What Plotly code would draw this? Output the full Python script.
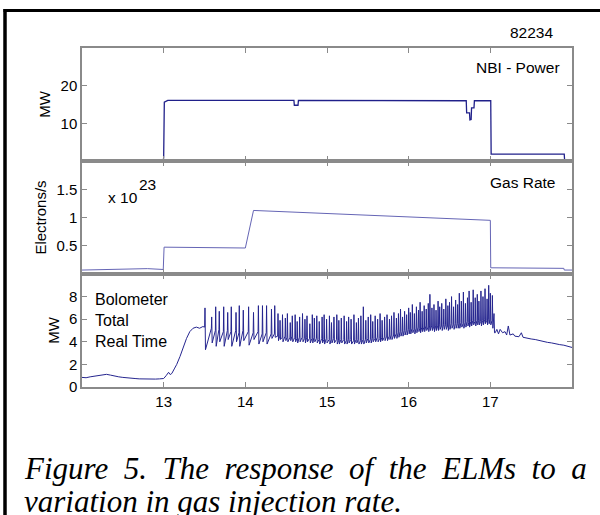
import plotly.graph_objects as go
from plotly.subplots import make_subplots

# ---------------- data ----------------
shot_number = "82234"

# NBI power (MW)
nbi_t = [12.0, 12.995, 13.0, 13.008, 13.05, 14.595, 14.60, 14.645, 14.65, 16.705, 16.71,
         16.745, 16.75, 16.765, 16.77, 16.80, 16.805, 17.005, 17.01, 17.905, 17.91, 18.0]
nbi_v = [0.0, 0.0, 1.0, 15.6, 16.1, 16.1, 14.8, 14.8, 16.1, 16.0, 12.8,
         12.8, 10.9, 11.0, 14.1, 14.1, 16.0, 16.0, 1.8, 1.8, 0.0, 0.0]

# Gas rate (x 1e23 electrons/s)
gas_t = [12.0, 12.8, 12.995, 13.005, 14.0, 14.1, 17.0, 17.005, 17.9, 17.905, 18.0]
gas_v = [0.07, 0.095, 0.08, 0.475, 0.46, 1.125, 0.95, 0.11, 0.10, 0.07, 0.07]

# Bolometer total (MW): before ELMs
bolo_pre_t = [12.0, 12.05, 12.1, 12.15, 12.2, 12.25, 12.3, 12.35, 12.4, 12.45, 12.5, 12.55,
              12.6, 12.65, 12.7, 12.75, 12.8, 12.85, 12.9, 12.95, 13.0, 13.03, 13.06, 13.08,
              13.1, 13.13, 13.16, 13.2, 13.24, 13.28, 13.32, 13.36, 13.4, 13.44, 13.48]
bolo_pre_v = [0.85, 0.82, 0.9, 0.95, 1.05, 1.1, 1.12, 1.05, 0.95, 0.9, 0.85, 0.8,
              0.75, 0.75, 0.72, 0.7, 0.7, 0.72, 0.7, 0.72, 0.75, 1.0, 1.3, 1.1,
              1.2, 1.6, 2.0, 2.7, 3.5, 4.3, 4.9, 5.2, 5.3, 5.2, 5.35]

# ELM spikes: time, level before, peak, trough after
elm_t = [13.506, 13.588, 13.637, 13.681, 13.735, 13.784, 13.828, 13.886, 13.926, 13.975,
         14.04, 14.10, 14.16, 14.21, 14.26, 14.32, 14.36,
         14.40, 14.425, 14.455, 14.49, 14.515, 14.55, 14.575, 14.61, 14.635, 14.665,
         14.70, 14.73, 14.755, 14.79, 14.82, 14.845, 14.875, 14.905, 14.94, 14.965,
         14.995, 15.03, 15.055, 15.085, 15.12, 15.145, 15.175, 15.21, 15.24, 15.265,
         15.295, 15.33, 15.36, 15.385, 15.415, 15.445, 15.475, 15.505, 15.535, 15.56,
         15.59, 15.62, 15.65, 15.675, 15.705, 15.735, 15.765, 15.79, 15.82, 15.85, 15.875,
         15.90, 15.925, 15.95, 15.975, 16.00, 16.02, 16.045, 16.07, 16.095, 16.12,
         16.14, 16.165, 16.19, 16.215, 16.24, 16.26, 16.285, 16.31, 16.335, 16.36,
         16.38, 16.405, 16.43, 16.455, 16.48, 16.50, 16.525, 16.55, 16.575, 16.60,
         16.62, 16.645, 16.67, 16.695, 16.72, 16.74, 16.765, 16.79, 16.815, 16.84,
         16.86, 16.885, 16.91, 16.935, 16.96, 16.98, 17.00, 17.025, 17.045]
elm_base = [5.3, 5.2, 5.0, 5.1, 4.9, 5.0, 4.9, 5.0, 4.8, 5.0,
            4.9, 4.8, 4.9, 4.7, 4.8, 4.7, 4.7,
            4.5, 4.5, 4.4, 4.5, 4.4, 4.4, 4.5, 4.4, 4.3, 4.4,
            4.4, 4.3, 4.4, 4.3, 4.3, 4.4, 4.3, 4.2, 4.3, 4.2,
            4.3, 4.2, 4.2, 4.3, 4.2, 4.1, 4.2, 4.2, 4.1, 4.2,
            4.2, 4.1, 4.2, 4.2, 4.1, 4.2, 4.2, 4.3, 4.2, 4.3,
            4.3, 4.4, 4.3, 4.4, 4.4, 4.5, 4.5, 4.6, 4.6, 4.7, 4.8,
            4.9, 4.9, 5.0, 5.0, 5.1, 5.1, 5.2, 5.1, 5.2, 5.3,
            5.2, 5.3, 5.3, 5.4, 5.3, 5.4, 5.4, 5.3, 5.4, 5.4,
            5.5, 5.4, 5.5, 5.5, 5.4, 5.5, 5.6, 5.5, 5.6, 5.6,
            5.6, 5.7, 5.6, 5.7, 5.8, 5.7, 5.8, 5.9, 5.8, 5.9,
            5.9, 5.8, 5.9, 6.0, 5.9, 6.0, 6.0, 5.9, 5.8]
elm_peak = [7.0, 6.2, 7.1, 6.7, 7.1, 6.6, 7.1, 6.6, 7.2, 6.8,
            7.1, 6.6, 7.2, 7.2, 7.2, 6.9, 7.2,
            6.5, 5.9, 6.4, 6.1, 6.5, 5.7, 6.3, 6.4, 5.8, 6.2,
            6.5, 6.0, 6.3, 5.6, 6.4, 6.1, 6.3, 5.8, 6.2, 6.4,
            6.0, 6.3, 5.7, 6.2, 6.4, 5.9, 6.1, 6.3, 5.8, 6.2,
            6.0, 6.4, 5.7, 6.1, 6.3, 7.1, 5.9, 6.2, 6.4, 5.8,
            6.3, 6.0, 6.5, 5.9, 6.2, 6.4, 6.0, 6.3, 6.6, 6.1, 6.5,
            6.9, 6.2, 6.7, 6.4, 7.0, 6.6, 7.3, 6.5, 7.1, 6.8,
            7.5, 6.7, 7.2, 6.9, 7.4, 8.2, 7.0, 7.3, 6.8, 7.6,
            7.1, 7.4, 6.9, 7.8, 7.2, 7.5, 8.0, 7.1, 7.7, 7.3,
            8.3, 7.6, 8.4, 7.4, 7.9, 8.5, 7.5, 8.6, 7.9, 8.2,
            7.6, 8.5, 8.0, 8.7, 7.8, 9.0, 8.3, 8.1, 6.5]
elm_low = [3.3, 3.9, 3.6, 4.0, 3.6, 4.2, 3.6, 4.0, 3.6, 4.1,
           3.7, 4.2, 3.8, 4.0, 3.8, 4.3, 4.4,
           4.1, 4.2, 4.0, 4.1, 4.0, 4.1, 4.0, 4.0, 3.9, 4.0,
           4.0, 3.9, 4.0, 3.9, 3.9, 4.0, 3.9, 3.8, 3.9, 3.8,
           3.9, 3.8, 3.9, 3.9, 3.8, 3.8, 3.9, 3.8, 3.8, 3.9,
           3.8, 3.8, 3.9, 3.8, 3.8, 3.8, 3.9, 3.9, 3.9, 4.0,
           4.0, 4.0, 4.0, 4.1, 4.1, 4.1, 4.2, 4.2, 4.3, 4.3, 4.4,
           4.5, 4.5, 4.6, 4.6, 4.7, 4.7, 4.8, 4.7, 4.8, 4.9,
           4.8, 4.9, 4.9, 5.0, 4.9, 5.0, 5.0, 4.9, 5.0, 5.0,
           5.1, 5.0, 5.1, 5.1, 5.0, 5.1, 5.2, 5.1, 5.2, 5.2,
           5.2, 5.3, 5.2, 5.3, 5.4, 5.3, 5.4, 5.5, 5.4, 5.5,
           5.5, 5.4, 5.5, 5.6, 5.5, 5.6, 5.5, 5.2, 4.8]

# after the ELMy phase
bolo_post_t = [17.06, 17.08, 17.10, 17.12, 17.15, 17.18, 17.20, 17.22, 17.24, 17.28, 17.30,
               17.35, 17.38, 17.40, 17.45, 17.50, 17.55, 17.60, 17.65, 17.70, 17.75, 17.80,
               17.85, 17.90, 17.95, 18.0]
bolo_post_v = [4.8, 5.1, 4.7, 5.1, 4.8, 4.9, 4.6, 5.4, 4.6, 4.7, 4.5,
               4.45, 4.8, 4.4, 4.3, 4.25, 4.2, 4.1, 4.05, 3.95, 3.9, 3.8,
               3.75, 3.7, 3.6, 3.5]

x_ticks = [13, 14, 15, 16, 17]
caption_line1 = ["Figure", "5.", "The", "response", "of", "the", "ELMs", "to", "a"]
caption_line2 = "variation in gas injection rate."

# ---------------- build bolometer trace ----------------
bolo_t = list(bolo_pre_t)
bolo_v = list(bolo_pre_v)
for t, b, p, lo in zip(elm_t, elm_base, elm_peak, elm_low):
    bolo_t += [t - 0.004, t, t + 0.006]
    bolo_v += [b, p, lo]
bolo_t += bolo_post_t
bolo_v += bolo_post_v

# ---------------- figure ----------------
W, H = 600, 515
ML, MR, MT, MB = 82, 28, 48, 128
PW, PH = W - ML - MR, H - MT - MB


def px(x):
    return (x - ML) / PW


def py(y):
    return 1 - (y - MT) / PH


fig = make_subplots(rows=3, cols=1, shared_xaxes=True, vertical_spacing=0)

fig.add_trace(go.Scatter(x=nbi_t, y=nbi_v, mode="lines",
                         line=dict(color="#20208a", width=1.3)), row=1, col=1)
fig.add_trace(go.Scatter(x=gas_t, y=gas_v, mode="lines",
                         line=dict(color="#6565b5", width=1)), row=2, col=1)
fig.add_trace(go.Scatter(x=bolo_t, y=bolo_v, mode="lines",
                         line=dict(color="#25258f", width=1)), row=3, col=1)

axis_grey = "#8a8a8a"
sans = "Liberation Sans, Arial, sans-serif"
tick_font = dict(family=sans, size=15, color="black")
common = dict(showline=True, linecolor=axis_grey, linewidth=1.5, mirror="ticks",
              ticks="inside", ticklen=5, tickcolor=axis_grey, tickwidth=1,
              showgrid=False, zeroline=False, tickfont=tick_font)

fig.update_xaxes(range=[12, 18], tickvals=x_ticks, **common)
fig.update_yaxes(**common)
fig.update_yaxes(range=[0, 30], tickvals=[10, 20], row=1, col=1,
                 title=dict(text="MW", font=tick_font, standoff=6))
fig.update_yaxes(range=[0, 2], tickvals=[0.5, 1, 1.5], ticktext=["0.5", "1", "1.5"],
                 row=2, col=1, title=dict(text="Electrons/s", font=tick_font, standoff=6))
fig.update_yaxes(range=[0, 10], tickvals=[0, 2, 4, 6, 8], row=3, col=1,
                 title=dict(text="MW", font=tick_font, standoff=6))

label_font = dict(family=sans, size=15.5, color="black")
ann = []
ann.append(dict(x=px(531), y=py(33), text=shot_number, xanchor="center"))
ann.append(dict(x=px(562), y=py(67), text="NBI - Power", xanchor="right"))
ann.append(dict(x=px(557), y=py(182), text="Gas Rate", xanchor="right"))
ann.append(dict(x=px(106), y=py(197), text="x 10", xanchor="left"))
ann.append(dict(x=px(137), y=py(184), text="23", xanchor="left"))
ann.append(dict(x=px(93), y=py(299), text="Bolometer", xanchor="left", font=dict(family=sans, size=16, color="black")))
ann.append(dict(x=px(93), y=py(320), text="Total", xanchor="left", font=dict(family=sans, size=16, color="black")))
ann.append(dict(x=px(93), y=py(341), text="Real Time", xanchor="left", font=dict(family=sans, size=16, color="black")))
for a in ann:
    a.setdefault("font", label_font)
    a.update(xref="paper", yref="paper", showarrow=False, yanchor="middle")
    fig.add_annotation(**a)

cap_font = dict(family="Liberation Serif, Times New Roman, serif", size=31, color="black")
nb = "&nbsp;"
cap1 = "<i>" + (nb * 2).join(caption_line1) + "</i>"
cap2 = "<i>" + caption_line2 + "</i>"
fig.add_annotation(x=px(22), y=py(468), xref="paper", yref="paper", text=cap1,
                   showarrow=False, xanchor="left", yanchor="middle", font=cap_font)
fig.add_annotation(x=px(22), y=py(501), xref="paper", yref="paper", text=cap2,
                   showarrow=False, xanchor="left", yanchor="middle", font=cap_font)

# outer frame (black border of the figure)
fig.add_shape(type="line", xref="paper", yref="paper", x0=px(3.5), x1=px(610),
              y0=py(10.5), y1=py(10.5), line=dict(color="black", width=3))
fig.add_shape(type="line", xref="paper", yref="paper", x0=px(5), x1=px(5),
              y0=py(9), y1=py(530), line=dict(color="black", width=3.5))

fig.update_layout(width=W, height=H, margin=dict(l=ML, r=MR, t=MT, b=MB),
                  paper_bgcolor="white", plot_bgcolor="white", showlegend=False)

fig.write_html("out.html")
